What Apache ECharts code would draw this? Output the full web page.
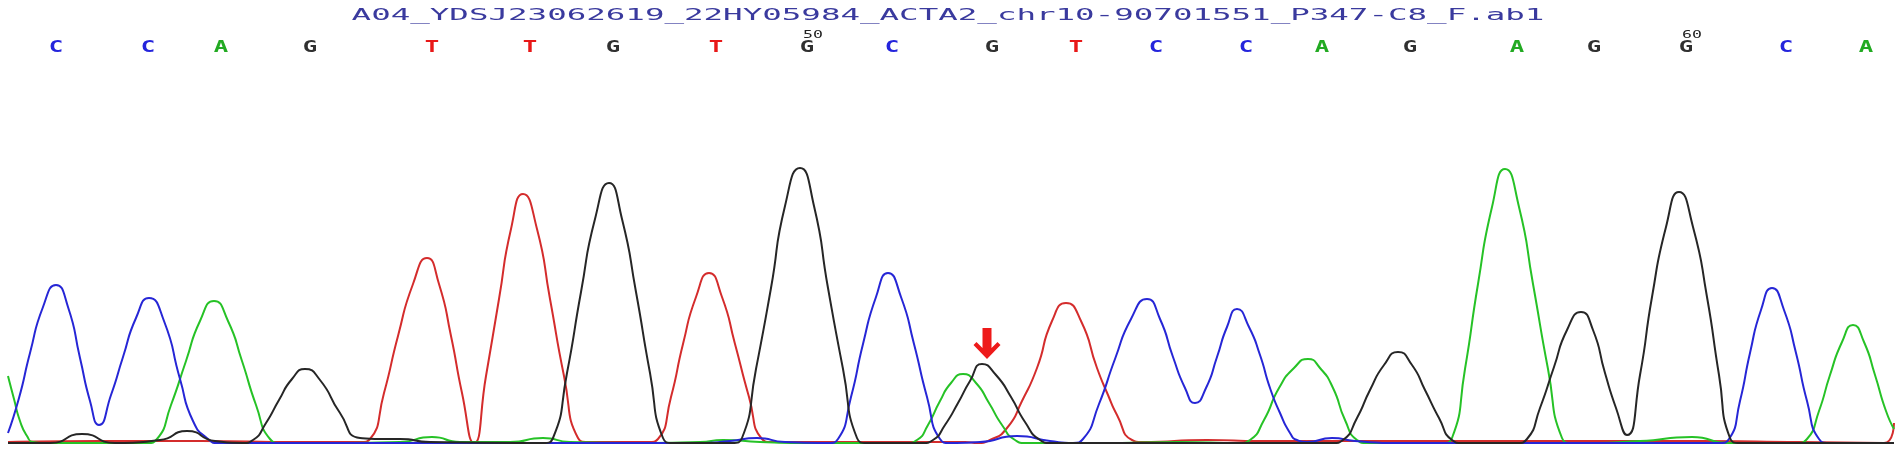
<!DOCTYPE html>
<html><head><meta charset="utf-8">
<script src="https://cdn.jsdelivr.net/npm/echarts@6/dist/echarts.min.js"></script>
<style>html,body{margin:0;padding:0;background:#fff}#c{width:1902px;height:451px}</style>
</head><body><div id="c"></div>
<script>
const titleText = 'A04_YDSJ23062619_22HY05984_ACTA2_chr10-90701551_P347-C8_F.ab1';
const bases = ['C','C','A','G','T','T','G','T','G','C','G','T','C','C','A','G','A','G','G','C','A'];
const basePos = [56,148,221,310,432,530,613,716,807,892,992,1076,1156,1246,1322,1410,1517,1594,1686,1786,1866];
const tickIdx = [8, 18];
const tickText = ['50', '60'];
const arrowAt = [987, 84];

// trace values: [scan position, signal]
const traceA = [[8,67],[14,44],[20,22],[27,7],[33,1],[45,0],[100,0],[147,0],
[157,4],[171,38],[186,82],[200,122],[214,142],[228,122],[242,82],[256,38],[270,4],
[280,0],[330,0],[400,1],[432,6],[460,1],[510,1],[543,5],[570,1],[640,0],[700,1],[723,3],[760,1],[800,0],[880,0],[907,0],
[917,3],[928,18],[940,42],[951,60],[963,69],[976,60],[989,40],[1002,18],[1015,3],
[1025,0],[1100,0],[1180,1],[1240,0],
[1250,3],[1264,23],[1279,55],[1294,75],[1308,84],[1320,75],[1333,55],[1345,23],[1357,3],
[1367,0],[1442,0],
[1452,5],[1465,74],[1478,159],[1492,236],[1505,274],[1519,236],[1533,159],[1548,74],[1562,5],
[1572,0],[1640,2],[1692,6],[1729,0],[1797,0],
[1807,4],[1819,32],[1830,68],[1842,101],[1853,118],[1864,101],[1875,68],[1886,32],[1894,14]];
const traceC = [[8,10],[19,45],[30,90],[43,136],[56,158],[68,136],[80,85],[90,42],[99,18],[111,48],[123,86],[136,125],[149,145],[164,122],[180,64],[193,22],[208,4],
[218,0],[300,0],[400,0],[500,0],[600,0],[700,0],[730,2],[757,5],[785,1],[828,0],
[838,4],[851,46],[863,99],[876,146],[888,170],[901,146],[914,99],[927,46],[940,4],
[950,0],[980,1],[1017,7],[1050,2],[1073,0],
[1083,4],[1099,39],[1115,84],[1131,124],[1147,144],[1160,124],[1173,86],[1185,55],[1195,40],[1206,55],[1217,86],[1227,116],[1237,134],[1249,116],[1260,88],[1270,55],[1280,30],[1290,10],[1297,3],
[1307,1],[1332,5],[1355,2],[1400,0],[1500,0],[1600,0],[1719,0],
[1729,4],[1740,42],[1750,90],[1761,133],[1772,155],[1784,133],[1796,90],[1807,42],[1819,4],
[1829,0],[1894,0]];
const traceG = [[8,0],[50,0],[82,9],[115,0],[160,3],[187,12],[215,2],[243,0],
[253,3],[266,20],[279,43],[292,64],[305,74],[320,63],[340,30],[360,5],[380,4],[400,4],[430,1],[543,0],
[553,5],[567,70],[581,151],[595,224],[609,260],[622,224],[636,151],[650,70],[663,5],
[673,0],[732,0],
[742,5],[756,74],[771,155],[785,237],[800,275],[814,237],[828,155],[843,74],[857,5],
[867,0],[923,0],
[933,3],[945,18],[958,40],[970,62],[982,79],[996,68],[1011,46],[1025,21],[1040,3],
[1050,0],[1333,0],
[1343,3],[1357,25],[1370,53],[1384,78],[1398,91],[1412,78],[1425,53],[1439,25],[1452,3],
[1462,0],[1517,0],
[1527,4],[1540,35],[1554,76],[1567,113],[1581,131],[1593,113],[1605,70],[1616,35],[1627,8],[1640,68],[1652,146],[1666,216],[1679,251],[1693,216],[1707,146],[1719,68],[1730,5],
[1740,0],[1894,0]];
const traceT = [[8,1],[100,2],[200,2],[300,1],[360,1],
[370,4],[384,50],[398,107],[413,159],[427,185],[439,159],[451,107],[462,50],[474,0],[486,67],[499,144],[511,214],[523,249],[537,214],[550,144],[564,67],[578,5],
[588,1],[648,1],
[658,4],[671,46],[683,99],[696,146],[709,170],[722,146],[735,99],[749,46],[762,4],
[772,1],[850,1],[965,1],[978,0],
[990,3],[1007,15],[1022,42],[1037,75],[1052,122],[1066,140],[1081,122],[1097,75],[1108,48],[1117,28],[1132,3],
[1142,1],[1207,3],[1260,2],[1400,2],[1600,2],[1700,2],[1800,1],[1884,0],[1894,20]];

const baseColor = {A:'#22aa22', C:'#2424dc', G:'#303030', T:'#e81818'};
const chart = echarts.init(document.getElementById('c'), null, {renderer:'canvas'});

function traceSeries(name, data, color, extra) {
  return Object.assign({
    name, type:'line', data, smooth:0.6, symbol:'none', clip:true,
    lineStyle:{color, width:2}, silent:true
  }, extra || {});
}

chart.setOption({
  animation:false,
  backgroundColor:'#ffffff',
  grid:{left:8, right:8, top:143, bottom:8},
  xAxis:{type:'value', min:8, max:1894, show:false},
  yAxis:{type:'value', min:0, max:300, show:false},
  graphic:[{
    type:'text', x:948, y:16, scaleX:2.03,
    style:{text:titleText, fill:'#3a3a9e', fontFamily:'DejaVu Sans Mono', fontSize:16, align:'center', verticalAlign:'middle'}
  }],
  series:[
    traceSeries('T', traceT, '#d42c2c'),
    traceSeries('A', traceA, '#26c226'),
    traceSeries('C', traceC, '#2626d6'),
    traceSeries('G', traceG, '#262626', {
      markPoint:{
        silent:true,
        symbol:'path://M9,0 L18,0 L18,20 L24,14 L27,17 L13.5,31 L0,17 L3,14 L9,20 Z',
        symbolSize:[27,31], symbolOffset:[0,'-50%'], symbolKeepAspect:false,
        itemStyle:{color:'#ee1a1a'}, label:{show:false},
        data:[{coord:arrowAt}]
      }
    }),
    {
      type:'custom', coordinateSystem:'cartesian2d', silent:true, clip:false,
      encode:{x:0, y:1},
      data: basePos.map((p,i)=>[p,0,i]),
      renderItem:(params, api)=>{
        const i = api.value(2);
        const pt = api.coord([api.value(0), 0]);
        return {type:'text', x:pt[0], y:48, scaleX:1.6,
          style:{text:bases[i], fill:baseColor[bases[i]], fontFamily:'DejaVu Sans Mono', fontWeight:'bold', fontSize:15, align:'center', verticalAlign:'middle'}};
      }
    },
    {
      type:'custom', coordinateSystem:'cartesian2d', silent:true, clip:false,
      encode:{x:0, y:1},
      data: tickIdx.map((b,k)=>[basePos[b],0,k]),
      renderItem:(params, api)=>{
        const k = api.value(2);
        const pt = api.coord([api.value(0), 0]);
        return {type:'text', x:pt[0]+6, y:35, scaleX:1.5,
          style:{text:tickText[k], fill:'#222222', fontFamily:'DejaVu Sans Mono', fontSize:11, align:'center', verticalAlign:'middle'}};
      }
    }
  ]
});
</script>
</body></html>
